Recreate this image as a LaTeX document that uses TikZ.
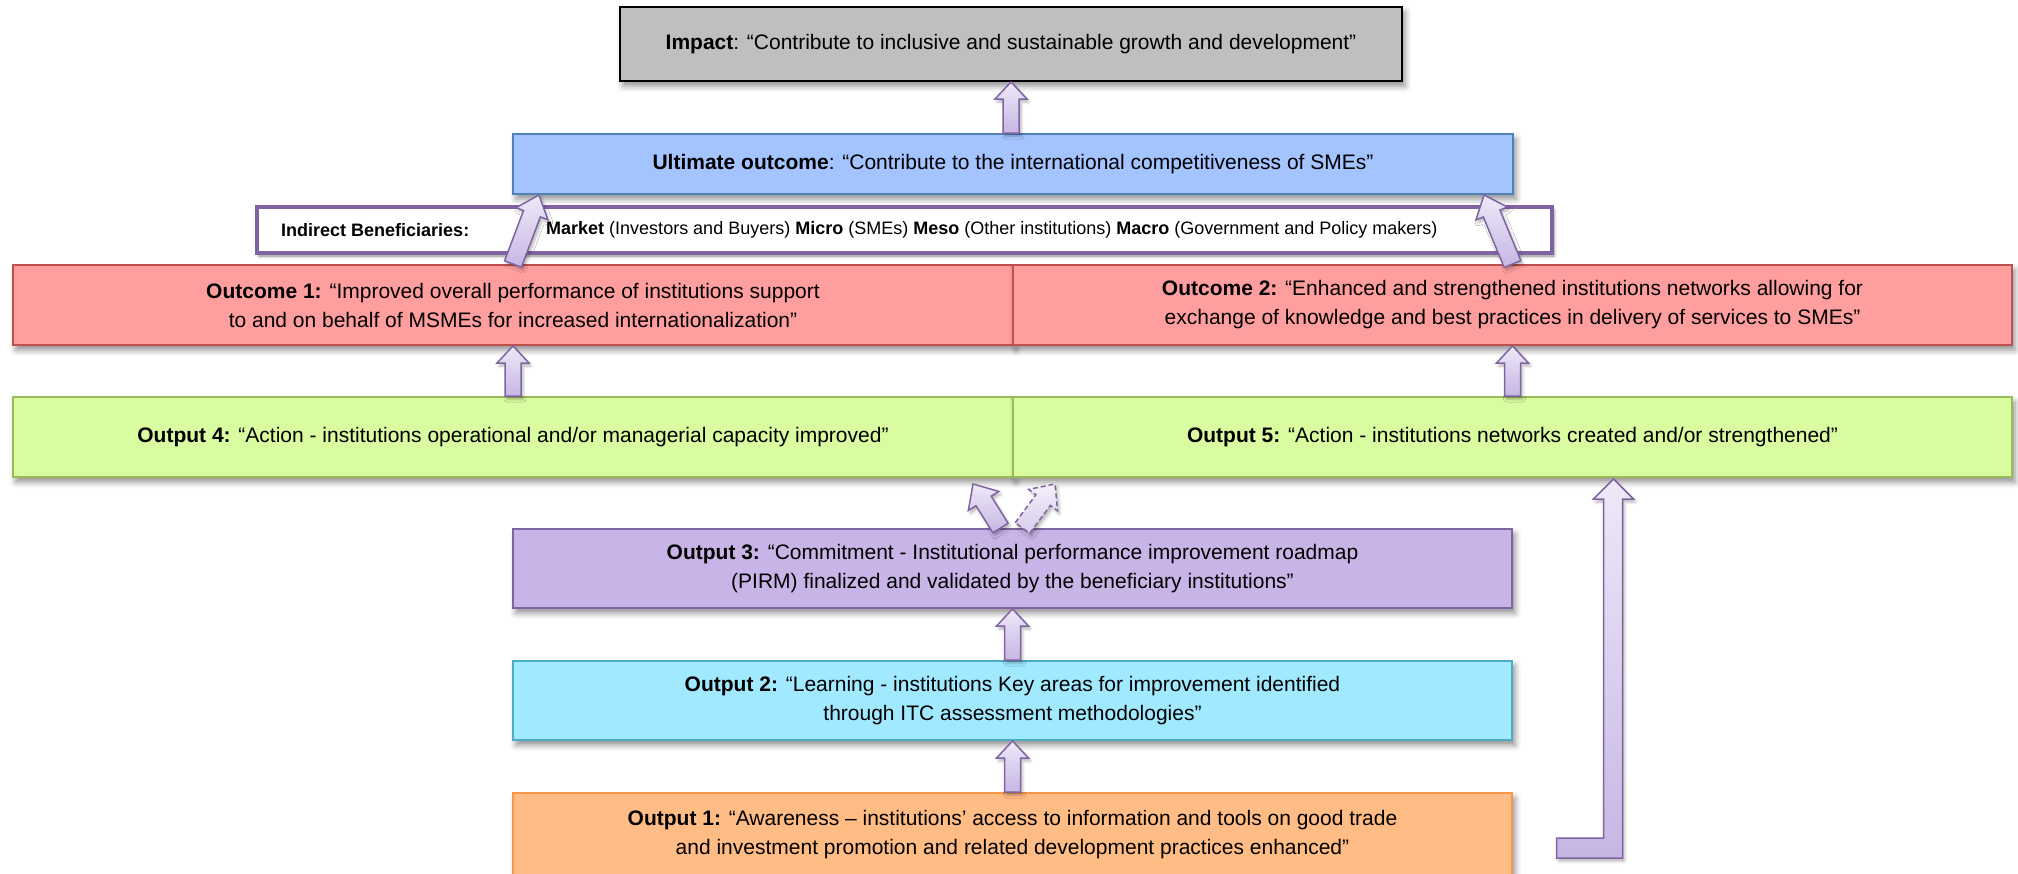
\documentclass[tikz,border=0pt]{standalone}
\usepackage{fontspec}
\setmainfont{Liberation Sans}
\usetikzlibrary{calc,shadows.blur}

\definecolor{impF}{RGB}{191,191,191}
\definecolor{ultF}{RGB}{164,196,255}
\definecolor{ultB}{RGB}{79,129,189}
\definecolor{ocF}{RGB}{255,158,158}
\definecolor{ocB}{RGB}{192,80,77}
\definecolor{opF}{RGB}{217,252,160}
\definecolor{opB}{RGB}{155,187,89}
\definecolor{cmF}{RGB}{200,180,230}
\definecolor{cmB}{RGB}{128,100,162}
\definecolor{lnF}{RGB}{160,233,255}
\definecolor{lnB}{RGB}{75,172,198}
\definecolor{awF}{RGB}{255,188,133}
\definecolor{awB}{RGB}{247,150,70}
\definecolor{arTop}{RGB}{238,233,248}
\definecolor{arBot}{RGB}{198,182,228}
\definecolor{arLine}{RGB}{128,100,162}

\tikzset{
  box/.style={rectangle, inner sep=0pt, align=center, line width=2pt,
    font=\fontsize{21}{29}\selectfont,
    blur shadow={shadow xshift=3pt, shadow yshift=-5pt, shadow blur radius=6pt, shadow opacity=45}},
  smalltext/.style={inner sep=0pt, font=\fontsize{18}{22}\selectfont},
  arrowbody/.style={draw=arLine, line width=1.5pt, line join=miter,
    top color=arTop, bottom color=arBot,
    blur shadow={shadow xshift=2pt, shadow yshift=-3pt, shadow blur radius=3pt, shadow opacity=30}},
  dashedbody/.style={arrowbody, top color=arTop!70!white, bottom color=arBot!70!white,
    dash pattern=on 5pt off 3pt}
}

% block arrow from #2 to #3; #4 half shaft, #5 half head, #6 head length
\newcommand\flowarrow[6][arrowbody]{%
  \coordinate (fa-f) at (#2);
  \coordinate (fa-t) at (#3);
  \coordinate (fa-h) at ($(fa-t)!#6!(fa-f)$);
  \draw[#1] ($(fa-f)!#4!90:(fa-t)$) -- ($(fa-h)!#4!90:(fa-t)$)
    -- ($(fa-h)!#5!90:(fa-t)$) -- (fa-t) -- ($(fa-h)!#5!-90:(fa-t)$)
    -- ($(fa-h)!#4!-90:(fa-t)$) -- ($(fa-f)!#4!-90:(fa-t)$) -- cycle;
}

\begin{document}
\begin{tikzpicture}[x=1pt,y=1pt]
\useasboundingbox (0,0) rectangle (2018,-873);

% impact and ultimate outcome
\node[box, draw=black, fill=impF, minimum width=782pt, minimum height=74pt] (imp) at (1011,-44)
  {\textbf{Impact}: “Contribute to inclusive and sustainable growth and development”};
\node[box, draw=ultB, fill=ultF, minimum width=1000pt, minimum height=60pt] (ult) at (1013,-164)
  {\textbf{Ultimate outcome}: “Contribute to the international competitiveness of SMEs”};

% indirect beneficiaries band
\node[box, draw=cmB, fill=white, line width=4pt, minimum width=1295pt, minimum height=46pt,
  blur shadow={shadow xshift=2pt, shadow yshift=-3pt, shadow blur radius=3pt, shadow opacity=25}] (ben) at (904.5,-230) {};
\node[smalltext, anchor=west] (benlab) at ($(ben.west)+(26,0)$) {\textbf{Indirect Beneficiaries:}};
\node[smalltext, anchor=west] (benlist) at ($(ben.west)+(291,0)$)
  {\textbf{Market} (Investors and Buyers) \textbf{Micro} (SMEs) \textbf{Meso} (Other institutions) \textbf{Macro} (Government and Policy makers)};

% outcomes
\node[box, draw=ocB, fill=ocF, minimum width=1000pt, minimum height=80pt] (oc1) at (513,-305)
  {\textbf{Outcome 1:} “Improved overall performance of institutions support\\to and on behalf of MSMEs for increased internationalization”};
\node[box, draw=ocB, fill=ocF, minimum width=999pt, minimum height=80pt] (oc2) at (1512.5,-305)
  {\textbf{Outcome 2:} “Enhanced and strengthened institutions networks allowing for\\exchange of knowledge and best practices in delivery of services to SMEs”};

% action outputs
\node[box, draw=opB, fill=opF, minimum width=1000pt, minimum height=80pt] (op4) at (513,-437)
  {\textbf{Output 4:} “Action - institutions operational and/or managerial capacity improved”};
\node[box, draw=opB, fill=opF, minimum width=999pt, minimum height=80pt] (op5) at (1512.5,-437)
  {\textbf{Output 5:} “Action - institutions networks created and/or strengthened”};

% commitment, learning, awareness
\node[box, draw=cmB, fill=cmF, minimum width=999pt, minimum height=79pt] (op3) at (1012.5,-568.5)
  {\textbf{Output 3:} “Commitment - Institutional performance improvement roadmap\\(PIRM) finalized and validated by the beneficiary institutions”};
\node[box, draw=lnB, fill=lnF, minimum width=999pt, minimum height=79pt] (op2) at (1012.5,-700.5)
  {\textbf{Output 2:} “Learning - institutions Key areas for improvement identified\\through ITC assessment methodologies”};
\node[box, draw=awB, fill=awF, minimum width=999pt, minimum height=84pt] (op1) at (1012.5,-835)
  {\textbf{Output 1:} “Awareness – institutions’ access to information and tools on good trade\\and investment promotion and related development practices enhanced”};

% connectors
\flowarrow{ult.north -| imp.south}{imp.south}{8pt}{16pt}{17pt}
\flowarrow{oc1.north}{$(ult.south west)+(27,0)$}{9pt}{17pt}{20pt}
\flowarrow{oc2.north}{$(ult.south east)+(-30,0)$}{9pt}{17pt}{20pt}
\flowarrow{op4.north}{oc1.south}{8pt}{16pt}{17pt}
\flowarrow{op5.north}{oc2.south}{8pt}{16pt}{17pt}
\flowarrow{$(op3.north)+(-12,0)$}{$(op4.south east)+(-41,-6)$}{9pt}{18pt}{20pt}
\flowarrow[dashedbody]{$(op3.north)+(10,0)$}{$(op5.south west)+(43,-6)$}{9pt}{18pt}{20pt}
\flowarrow{op2.north}{op3.south}{8pt}{16pt}{17pt}
\flowarrow{op1.north}{op2.south}{8pt}{16pt}{17pt}

% elbow from the awareness level up to output 5
\coordinate (elbtip) at ($(op5.south)+(101,-1)$);
\draw[arrowbody] (elbtip) -- ++(-20,-20) -- ++(10,0) -- ++(0,-339) -- ++(-47,0)
  -- ++(0,-20) -- ++(66,0) -- ++(0,359) -- ++(11,0) -- cycle;
\end{tikzpicture}
\end{document}
